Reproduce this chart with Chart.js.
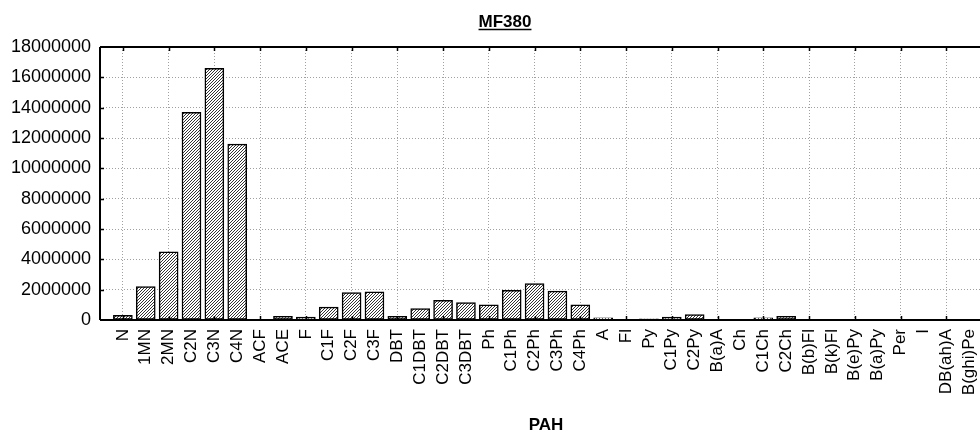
<!DOCTYPE html>
<html>
<head>
<meta charset="utf-8">
<script src="https://cdn.jsdelivr.net/npm/chart.js@4/dist/chart.umd.min.js"></script>
<style>
  html, body { margin: 0; padding: 0; background: #fff; overflow: hidden; }
  #wrap { width: 1000px; height: 432px; position: relative; }
</style>
</head>
<body>
<div id="wrap"><canvas id="chart" width="1000" height="432"></canvas></div>
<script>
const chartTitle = "MF380";
const axisTitle = "PAH";
const pahLabels = ["N", "1MN", "2MN", "C2N", "C3N", "C4N", "ACF", "ACE", "F", "C1F", "C2F", "C3F",
  "DBT", "C1DBT", "C2DBT", "C3DBT", "Ph", "C1Ph", "C2Ph", "C3Ph", "C4Ph", "A", "Fl", "Py",
  "C1Py", "C2Py", "B(a)A", "Ch", "C1Ch", "C2Ch", "B(b)Fl", "B(k)Fl", "B(e)Py", "B(a)Py",
  "Per", "I", "DB(ah)A", "B(ghi)Pe"];
const pahValues = [300000, 2200000, 4500000, 13700000, 16600000, 11600000, 20000, 250000, 200000, 850000, 1800000, 1850000,
  250000, 750000, 1300000, 1150000, 1000000, 1950000, 2400000, 1900000, 1000000, 150000, 10000, 80000,
  200000, 350000, 20000, 20000, 150000, 250000, 5000, 5000, 30000, 30000,
  0, 0, 0, 0];
const yMax = 18000000;
const yStep = 2000000;

const FONT = '"Liberation Sans", Arial, sans-serif';

function hatchPattern() {
  const c = document.createElement("canvas");
  c.width = 3; c.height = 3;
  const g = c.getContext("2d");
  g.fillStyle = "#fff";
  g.fillRect(0, 0, 3, 3);
  g.strokeStyle = "#333";
  g.lineWidth = 1;
  g.beginPath();
  g.moveTo(0, 3); g.lineTo(3, 0);
  g.moveTo(-1, 1); g.lineTo(1, -1);
  g.moveTo(2, 4); g.lineTo(4, 2);
  g.stroke();
  return g.createPattern(c, "repeat");
}

// frame, inner tick marks and the two titles
const decor = {
  id: "decor",
  afterDraw(chart) {
    const ctx = chart.ctx;
    const { left, right, top, bottom } = chart.chartArea;
    const xs = chart.scales.x, ys = chart.scales.y;
    ctx.save();
    ctx.strokeStyle = "#000";
    ctx.lineWidth = 2;
    ctx.beginPath();
    ctx.moveTo(left, top); ctx.lineTo(right, top);
    ctx.moveTo(left, top); ctx.lineTo(left, bottom);
    ctx.moveTo(left, bottom); ctx.lineTo(right, bottom);
    ctx.stroke();

    ctx.lineWidth = 1.5;
    ctx.beginPath();
    for (let i = 0; i < pahLabels.length; i += 2) {
      const px = Math.round(xs.getPixelForValue(i)) + 0.5;
      ctx.moveTo(px, top); ctx.lineTo(px, top + 4);
      ctx.moveTo(px, bottom); ctx.lineTo(px, bottom - 4);
    }
    for (let v = yStep; v < yMax; v += yStep) {
      const py = Math.round(ys.getPixelForValue(v)) + 0.5;
      ctx.moveTo(left, py); ctx.lineTo(left + 4, py);
    }
    ctx.stroke();

    ctx.fillStyle = "#000";
    ctx.textAlign = "center";
    ctx.textBaseline = "alphabetic";
    ctx.font = "bold 17px " + FONT;
    ctx.fillText(chartTitle, 505, 27);
    const w = ctx.measureText(chartTitle).width;
    ctx.lineWidth = 1.5;
    ctx.beginPath();
    ctx.moveTo(505 - w / 2, 29.5); ctx.lineTo(505 + w / 2, 29.5);
    ctx.stroke();

    ctx.fillText(axisTitle, (left + right) / 2, 430);
    ctx.restore();
  }
};

const points = pahValues.map((v, i) => ({ x: i, y: v }));

new Chart(document.getElementById("chart"), {
  type: "bar",
  data: {
    datasets: [{
      data: points,
      backgroundColor: hatchPattern(),
      borderColor: "#000",
      borderWidth: 1.5,
      borderSkipped: false,
      barThickness: 19
    }]
  },
  options: {
    responsive: false,
    animation: false,
    layout: { padding: { top: 47, right: 8, left: 0, bottom: 0 } },
    plugins: {
      legend: { display: false },
      tooltip: { enabled: false }
    },
    scales: {
      x: {
        type: "linear",
        offset: false,
        min: -1,
        max: pahLabels.length,
        border: { display: false, dash: [1, 2] },
        grid: {
          offset: false,
          drawTicks: false,
          color: ctx => {
            const v = ctx.tick ? ctx.tick.value : -1;
            return (v >= 0 && v < pahLabels.length && v % 2 === 0) ? "#a0a0a0" : "rgba(0,0,0,0)";
          },
          lineWidth: 1
        },
        afterFit: s => {
          s.height = 112;
          s.paddingLeft = 0;
          s.paddingRight = 0;
        },
        ticks: {
          stepSize: 1,
          autoSkip: false,
          maxTicksLimit: 100,
          minRotation: 90,
          maxRotation: 90,
          padding: 9,
          color: "#000",
          font: { family: FONT, size: 17 },
          callback: v => pahLabels[v] || ""
        }
      },
      y: {
        min: 0,
        max: yMax,
        border: { display: false, dash: [1, 2] },
        grid: {
          drawTicks: false,
          color: "#a0a0a0",
          lineWidth: 1
        },
        afterFit: s => {
          s.width = 100;
          s.paddingTop = 0;
          s.paddingBottom = 0;
        },
        ticks: {
          stepSize: yStep,
          padding: 9,
          color: "#000",
          font: { family: FONT, size: 18 },
          callback: v => String(v)
        }
      }
    }
  },
  plugins: [decor]
});
</script>
</body>
</html>
